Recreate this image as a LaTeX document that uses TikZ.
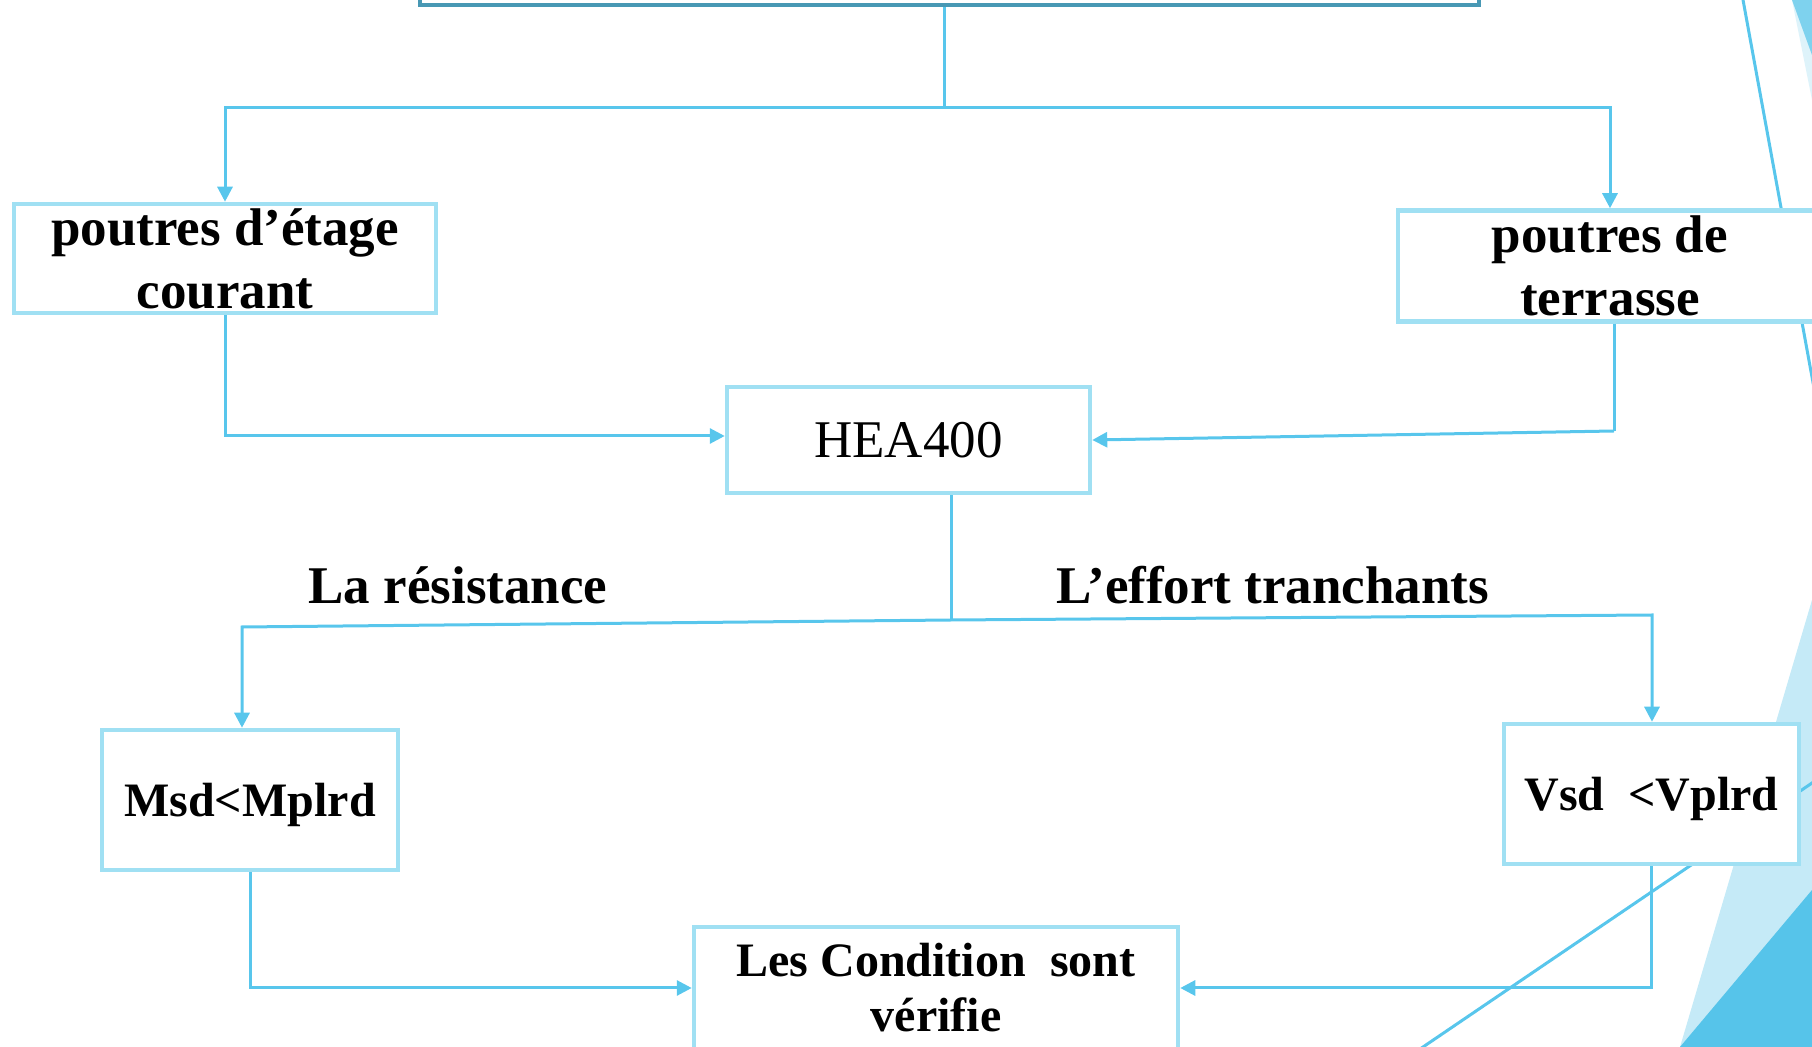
\documentclass[tikz,border=0pt]{standalone}
\usepackage{fontspec}
\setmainfont{Liberation Serif}
\usetikzlibrary{arrows.meta}

\definecolor{linkblue}{RGB}{88,198,236}
\definecolor{boxblue}{RGB}{160,224,243}
\definecolor{headteal}{RGB}{72,152,180}
\definecolor{paleblue}{RGB}{197,234,247}
\definecolor{deepblue}{RGB}{86,196,234}
\definecolor{wedgemid}{RGB}{126,210,238}
\definecolor{wedgepale}{RGB}{222,243,250}

\begin{document}
\begin{tikzpicture}[x=0.5pt,y=-0.5pt,
  box/.style={draw=boxblue, line width=2.25pt, fill=white, inner sep=0pt, align=center},
  link/.style={draw=linkblue, line width=1.5pt},
  arr/.style={-{Triangle[length=7.5pt,width=7.5pt]}},
  bigbold/.style={font=\fontsize{26.5pt}{31.5pt}\selectfont\bfseries},
  bigplain/.style={font=\fontsize{26.5pt}{31.5pt}\selectfont},
  midbold/.style={font=\fontsize{24pt}{27.5pt}\selectfont\bfseries},
  deco/.style={draw=linkblue, line width=1.5pt}]

\useasboundingbox (0,0) rectangle (1812,1047);
\clip (0,0) rectangle (1812,1047);

% background ornaments on the right edge
\fill[wedgepale] (1792,0) -- (1812,100) -- (1812,0) -- cycle;
\fill[wedgemid] (1792,0) -- (1812,55) -- (1812,0) -- cycle;
\draw[deco] (1741.2,-10) -- (1816.2,400);
\fill[paleblue] (1812,600) -- (1680,1047) -- (1812,1047) -- cycle;
\fill[deepblue] (1812,890) -- (1680,1047) -- (1812,1047) -- cycle;
\draw[deco] (1400,1062.6) -- (1830,770.8);

% boxes
\node[draw=headteal, line width=2pt, fill=white, minimum width=529.5pt, minimum height=30pt, inner sep=0pt]
  (top) at (949.5,-25) {};
\node[box, bigbold, minimum width=211pt, minimum height=54.5pt] (b1) at (225,258.5)
  {poutres d’étage\\courant};
\node[box, bigbold, minimum width=212pt, minimum height=55.5pt] (b2) at (1610,266)
  {poutres de\\terrasse};
\node[box, bigplain, minimum width=181.5pt, minimum height=53pt] (hea) at (908.5,440)
  {HEA400};
\node[box, midbold, text depth=0pt, minimum width=148pt, minimum height=70pt] (msd) at (250,800)
  {Msd<Mplrd};
\node[box, midbold, text depth=0pt, minimum width=147.5pt, minimum height=70pt] (vsd) at (1651.5,794)
  {Vsd~~<Vplrd};
\node[box, midbold, minimum width=242pt, minimum height=61pt] (cond) at (936,988)
  {Les Condition~~sont\\vérifie};

% branch labels
\node[bigbold, anchor=base, inner sep=0pt] (lres) at (458,604) {La résistance};
\node[bigbold, anchor=base, inner sep=0pt] (leff) at (1273,604) {L’effort tranchants};

% connectors
\coordinate (j1) at (944,108);
\draw[link] (top.south -| j1) -- (j1);
\draw[link, arr] (j1) -| (b1.north);
\draw[link, arr] (j1) -| (b2.north);

\draw[link, arr] (b1.south) |- ([yshift=2pt]hea.west);
\coordinate (k2) at (1614,431);
\draw[link] ([xshift=2pt]b2.south) -- (k2);
\draw[link, arr] (k2) -- (hea.east);

\coordinate (j2) at (951,620);
\coordinate (l2) at (242,627);
\coordinate (r2) at (1652,615);
\draw[link] (j2 |- hea.south) -- (j2);
\draw[link, arr] (j2) -- (l2) -- (l2 |- msd.north);
\draw[link, arr] (j2) -- (r2) -- (r2 |- vsd.north);

\draw[link, arr] (msd.south) |- (cond.west);
\draw[link, arr] (vsd.south) |- (cond.east);
\end{tikzpicture}
\end{document}
